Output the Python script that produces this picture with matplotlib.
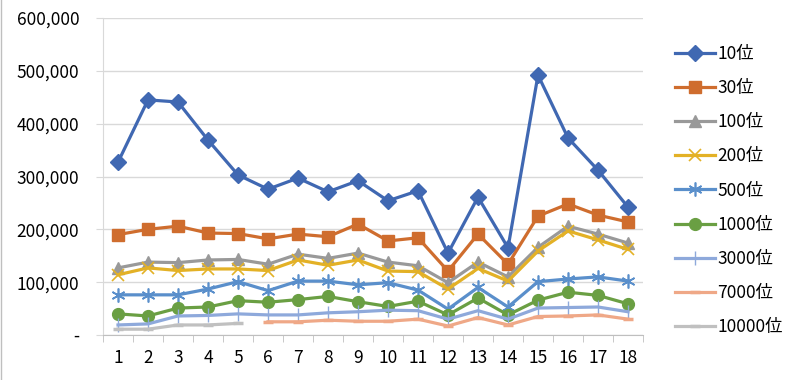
import numpy as np
import matplotlib
matplotlib.use("Agg")
import matplotlib.pyplot as plt
from matplotlib.ticker import FuncFormatter, MultipleLocator

plt.rcParams["font.family"] = ["Noto Sans CJK JP", "DejaVu Sans"]

nan = np.nan
days = list(range(1, 19))

# ランキング別の値
rank_10 = [327000, 445000, 441000, 369000, 303000, 276000, 297000, 271000, 292000,
           254000, 273000, 155000, 261000, 165000, 492000, 373000, 312000, 242000]
rank_30 = [190000, 200000, 206000, 193000, 192000, 182000, 191000, 186000, 210000,
           178000, 184000, 121000, 191000, 134000, 225000, 248000, 227000, 214000]
rank_100 = [127000, 138000, 137000, 142000, 143000, 134000, 153000, 145000, 155000,
            138000, 131000, 99000, 138000, 110000, 166000, 206000, 191000, 174000]
rank_200 = [114000, 127000, 122000, 125000, 125000, 122000, 142000, 132000, 142000,
            121000, 120000, 87000, 126000, 102000, 159000, 197000, 180000, 162000]
rank_500 = [76000, 76000, 76000, 87000, 101000, 84000, 102000, 102000, 95000,
            99000, 85000, 49000, 90000, 53000, 101000, 106000, 110000, 102000]
rank_1000 = [40000, 36000, 51000, 53000, 65000, 62000, 67000, 73000, 63000,
             54000, 64000, 38000, 70000, 38000, 66000, 81000, 75000, 59000]
rank_3000 = [19000, 21000, 36000, 37000, 40000, 38000, 38000, 42000, 44000,
             47000, 46000, 30000, 46000, 30000, 51000, 52000, 53000, 44000]
rank_7000 = [nan, nan, nan, nan, nan, 25000, 25000, 28000, 26000,
             26000, 30000, 17000, 33000, 19000, 35000, 36000, 38000, 30000]
rank_10000 = [11000, 11000, 19000, 19000, 22000, nan, nan, nan, nan,
              nan, nan, nan, nan, nan, nan, nan, nan, nan]

series = [
    ("10位", rank_10, "#4068B2", dict(marker="D", ms=8)),
    ("30位", rank_30, "#CF6D2E", dict(marker="s", ms=8.5)),
    ("100位", rank_100, "#999999", dict(marker="^", ms=9)),
    ("200位", rank_200, "#E3B126", dict(marker="x", ms=9, mew=1.2)),
    ("500位", rank_500, "#5A8FCB", dict(marker=(6, 2, 0), ms=10, mew=1.2)),
    ("1000位", rank_1000, "#6A9F43", dict(marker="o", ms=8.5)),
    ("3000位", rank_3000, "#8EA9DB", dict(marker="|", ms=10, mew=1.0)),
    ("7000位", rank_7000, "#EFA887", dict(marker="_", ms=7, mew=2.5)),
    ("10000位", rank_10000, "#C0C0C0", dict(marker="_", ms=7, mew=2.5)),
]

fig = plt.figure(figsize=(8, 3.8), dpi=100)
ax = fig.add_axes([103 / 800, 45 / 380, 540 / 800, 317 / 380])

for name, vals, color, mk in series:
    ax.plot(days, vals, color=color, lw=2.3, label=name, **mk)

ax.set_xlim(0.5, 18.5)
ax.set_ylim(0, 600000)
ax.set_xticks(days)
ax.xaxis.set_minor_locator(MultipleLocator(1, offset=0.5))
ax.yaxis.set_major_locator(MultipleLocator(100000))
ax.yaxis.set_major_formatter(FuncFormatter(lambda v, p: "-" if v == 0 else f"{int(v):,}"))

ax.grid(axis="y", color="#D9D9D9", lw=1.0)
ax.set_axisbelow(True)
for s in ["top", "right"]:
    ax.spines[s].set_visible(False)
ax.spines["left"].set_color("#D9D9D9")
ax.spines["bottom"].set_color("#BFBFBF")
ax.tick_params(axis="y", length=5, color="#D9D9D9", pad=12, labelsize=12.5)
ax.tick_params(axis="x", which="major", length=0, pad=10, labelsize=12.5)
ax.tick_params(axis="x", which="minor", length=5, color="#BFBFBF")

ax.legend(loc="upper left", bbox_to_anchor=(668 / 800, 1 - 38 / 380),
          bbox_transform=fig.transFigure, frameon=False, fontsize=12.5,
          handlelength=2.3, handletextpad=0.15, labelspacing=0.93, borderaxespad=0)

fig.add_artist(plt.Line2D([1 / 800, 1 / 800], [0, 1], color="#BFBFBF", lw=1))

fig.savefig("out.png", dpi=100)
